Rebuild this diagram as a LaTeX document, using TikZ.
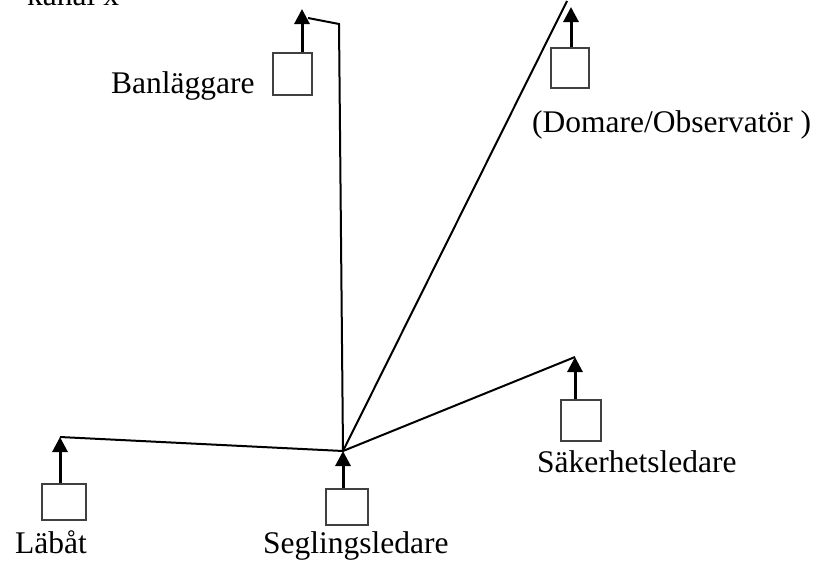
\documentclass[tikz,border=0pt]{standalone}
\usepackage{fontspec}
\setmainfont{Liberation Serif}
\usetikzlibrary{arrows.meta}

\begin{document}
\begin{tikzpicture}[x=1pt,y=-1pt,
	radio/.style={draw=black!75, line width=2pt, minimum width=40pt, minimum height=40pt, inner sep=0pt},
	antenna/.style={line width=3pt, -{Triangle[length=15pt,width=15pt]}},
	link/.style={line width=2pt},
	lbl/.style={inner sep=0pt, anchor=base west, font=\fontsize{31.5}{36}\selectfont}]
	\useasboundingbox (0,0) rectangle (827,568);
	% radios
	\node[radio, minimum width=39pt, minimum height=42pt] (ban) at (292.5,74) {};
	\node[radio, minimum width=38pt] (dom) at (570,68) {};
	\node[radio, minimum height=41pt] (sak) at (581,420.5) {};
	\node[radio, minimum width=44pt, minimum height=36pt] (lab) at (64,502) {};
	\node[radio, minimum width=42pt, minimum height=36pt] (seg) at (347,507) {};
	% antenna tips
	\coordinate (banTip) at (302,9);
	\coordinate (domTip) at (571,7);
	\coordinate (sakTip) at (575,357);
	\coordinate (labTip) at (60,437);
	\coordinate (hub) at (343,451);
	\coordinate (banJoin) at (308,18);
	\coordinate (banBend) at (339,24);
	\coordinate (domEnd) at (567,1);
	\draw[antenna] (ban.north -| banTip) -- (banTip);
	\draw[antenna] (dom.north -| domTip) -- (domTip);
	\draw[antenna] (sak.north -| sakTip) -- (sakTip);
	\draw[antenna] (lab.north -| labTip) -- (labTip);
	\draw[antenna] (seg.north -| hub) -- (hub);
	% links
	\draw[link] (banJoin) -- (banBend) -- (hub);
	\draw[link] (hub) -- (domEnd);
	\draw[link] (hub) -- (sakTip);
	\draw[link] (labTip) -- (hub);
	% labels
	\node[lbl] (kanal) at (27,5) {kanal x};
	\node[lbl] (banTxt) at (111,93) {Banläggare};
	\node[lbl] (domTxt) at (532,132) {(Domare/Observatör )};
	\node[lbl] (sakTxt) at (537,472) {Säkerhetsledare};
	\node[lbl] (labTxt) at (15,553) {Läbåt};
	\node[lbl] (segTxt) at (263,553) {Seglingsledare};
\end{tikzpicture}
\end{document}
